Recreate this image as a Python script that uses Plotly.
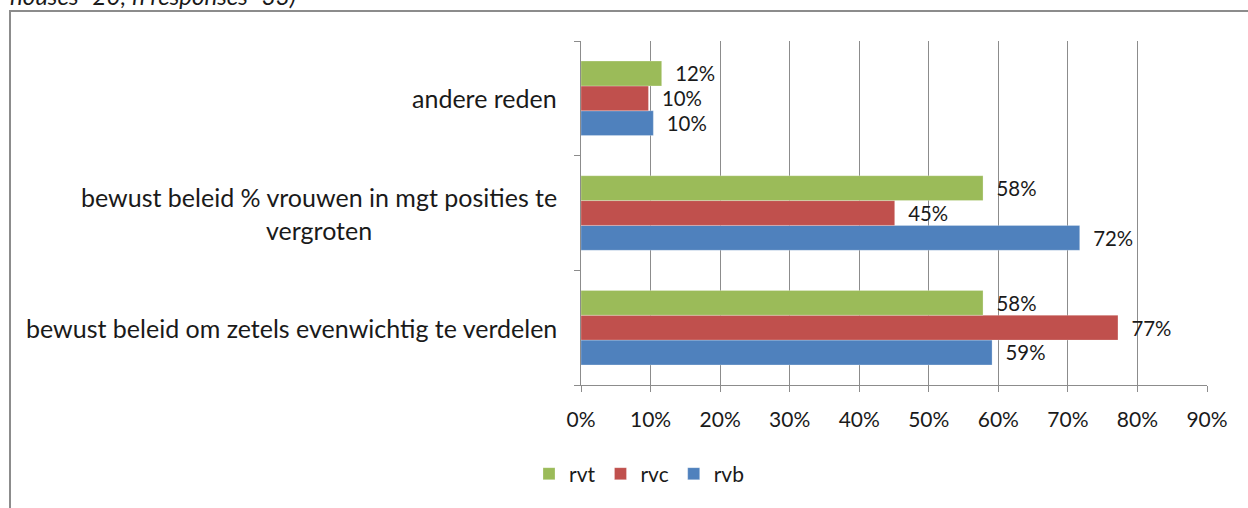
import plotly.graph_objects as go

categories = [
    "bewust beleid om zetels evenwichtig te verdelen",
    "bewust beleid % vrouwen in mgt posities te<br>vergroten",
    "andere reden",
]
series_names = ["rvb", "rvc", "rvt"]
rvb = [0.591, 0.717, 0.104]
rvc = [0.772, 0.451, 0.097]
rvt = [0.578, 0.578, 0.116]
series_values = [rvb, rvc, rvt]
colors = ["#4F81BD", "#C0504D", "#9BBB59"]
x_ticks = [0, 0.1, 0.2, 0.3, 0.4, 0.5, 0.6, 0.7, 0.8, 0.9]
x_ticklabels = ["0%", "10%", "20%", "30%", "40%", "50%", "60%", "70%", "80%", "90%"]
note_text = "houses=20; n responses=33)"

FONT = "Lato"
TXT = "#1a1a1a"
W, H = 1248, 508
L, R, T, B = 581, 41, 41, 123
pw, ph = W - L - R, H - T - B

fig = go.Figure()
for name, vals, col in zip(series_names, series_values, colors):
    fig.add_trace(go.Bar(
        y=categories, x=vals, name=name, orientation="h",
        marker=dict(color=col, line=dict(color="rgba(255,255,255,0.5)", width=0.5)),
        text=vals, texttemplate="\u00a0\u00a0%{x:.0%}", textposition="outside",
        textfont=dict(family=FONT, size=23, color=TXT),
        cliponaxis=False,
    ))

for cat in categories:
    fig.add_annotation(
        x=0, xref="paper", y=cat, yref="y", text=cat, showarrow=False,
        xanchor="right", align="center", xshift=-22,
        font=dict(family=FONT, size=25, color=TXT),
    )

fig.add_annotation(
    x=(8 - L) / pw, xref="paper", y=1 + (T - 12) / ph, yref="paper",
    text="<i>" + note_text + "</i>", showarrow=False, xanchor="left", yanchor="bottom",
    font=dict(family=FONT, size=24, color=TXT),
)

fig.add_shape(
    type="rect", xref="paper", yref="paper",
    x0=(10 - L) / pw, x1=(1300 - L) / pw, y0=-(600 - (H - B)) / ph, y1=1 + (T - 11) / ph,
    line=dict(color="#8c8c8c", width=2), fillcolor="rgba(0,0,0,0)", layer="below",
)

fig.update_layout(
    width=W, height=H,
    margin=dict(l=L, r=R, t=T, b=B),
    paper_bgcolor="white", plot_bgcolor="white",
    barmode="group", bargap=0.35, bargroupgap=0,
    font=dict(family=FONT, size=20, color=TXT),
    showlegend=True,
    legend=dict(
        orientation="h", traceorder="reversed",
        x=(529 - L) / pw, xanchor="left", y=(H - B - 474) / ph, yanchor="middle",
        font=dict(family=FONT, size=21, color=TXT),
        itemwidth=30,
    ),
    xaxis=dict(
        range=[0, 0.9], tickvals=x_ticks, ticktext=x_ticklabels,
        tickfont=dict(family=FONT, size=21, color=TXT),
        showgrid=True, gridcolor="#8c8c8c", gridwidth=1,
        showline=True, linecolor="#8c8c8c", linewidth=1,
        ticks="outside", ticklen=6, tickcolor="#8c8c8c",
        ticklabelstandoff=10, zeroline=False,
    ),
    yaxis=dict(
        type="category", categoryorder="array", categoryarray=categories,
        showticklabels=False, showgrid=False,
        showline=True, linecolor="#8c8c8c", linewidth=1,
        ticks="outside", ticklen=6, tickcolor="#8c8c8c", tickson="boundaries",
    ),
)

fig.write_html(
    "out.html",
    config={"displayModeBar": False},
    post_script="document.body.style.margin='0';document.body.style.overflow='hidden';",
)
